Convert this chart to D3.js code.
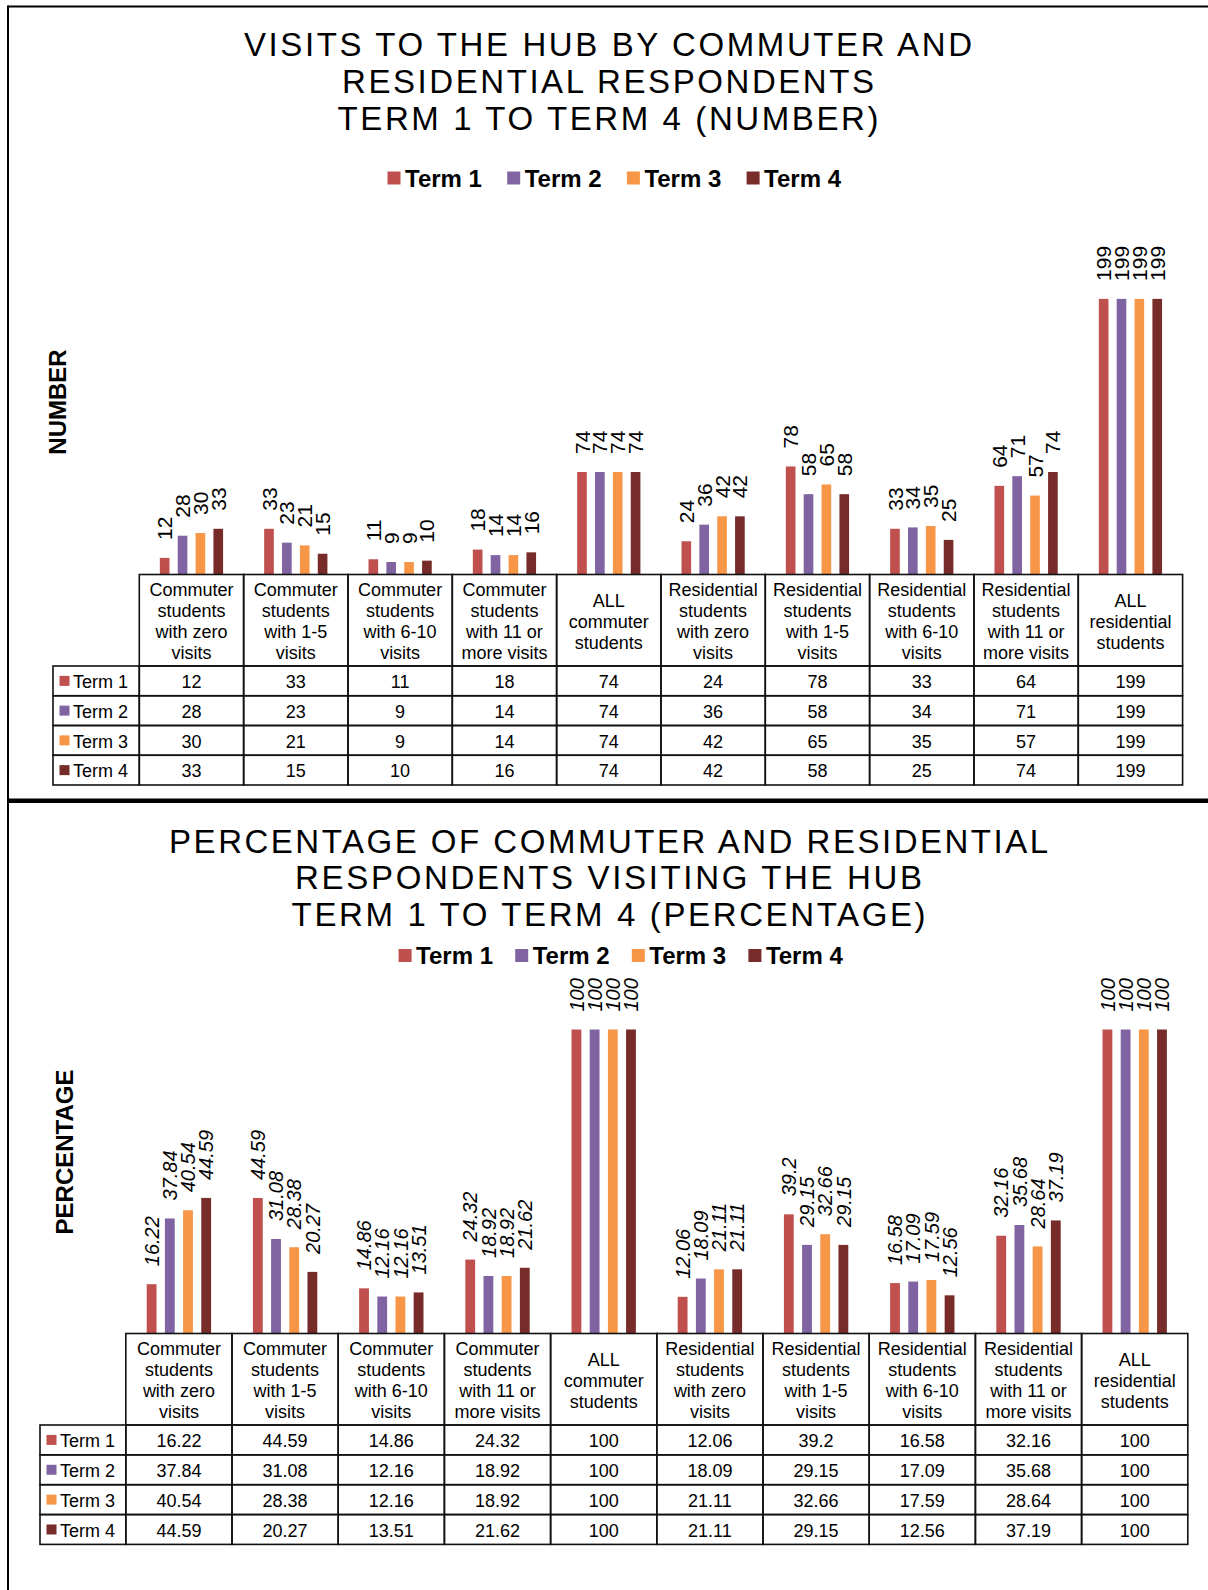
<!DOCTYPE html>
<html>
<head>
<meta charset="utf-8">
<script src="https://cdn.jsdelivr.net/npm/d3@7"></script>
<style>
  html, body { margin: 0; padding: 0; background: #fff; }
  svg { display: block; }
</style>
</head>
<body>
<svg id="chart" width="1208" height="1590"></svg>
<script>
// ---- Data ----
const categories = [
  "Commuter\nstudents\nwith zero\nvisits",
  "Commuter\nstudents\nwith 1-5\nvisits",
  "Commuter\nstudents\nwith 6-10\nvisits",
  "Commuter\nstudents\nwith 11 or\nmore visits",
  "ALL\ncommuter\nstudents",
  "Residential\nstudents\nwith zero\nvisits",
  "Residential\nstudents\nwith 1-5\nvisits",
  "Residential\nstudents\nwith 6-10\nvisits",
  "Residential\nstudents\nwith 11 or\nmore visits",
  "ALL\nresidential\nstudents"
];
const seriesNames = ["Term 1", "Term 2", "Term 3", "Term 4"];

const numberTerm1 = [12, 33, 11, 18, 74, 24, 78, 33, 64, 199];
const numberTerm2 = [28, 23, 9, 14, 74, 36, 58, 34, 71, 199];
const numberTerm3 = [30, 21, 9, 14, 74, 42, 65, 35, 57, 199];
const numberTerm4 = [33, 15, 10, 16, 74, 42, 58, 25, 74, 199];

const percentTerm1 = [16.22, 44.59, 14.86, 24.32, 100, 12.06, 39.2, 16.58, 32.16, 100];
const percentTerm2 = [37.84, 31.08, 12.16, 18.92, 100, 18.09, 29.15, 17.09, 35.68, 100];
const percentTerm3 = [40.54, 28.38, 12.16, 18.92, 100, 21.11, 32.66, 17.59, 28.64, 100];
const percentTerm4 = [44.59, 20.27, 13.51, 21.62, 100, 21.11, 29.15, 12.56, 37.19, 100];

const numberTitle = ["VISITS TO THE HUB BY COMMUTER AND", "RESIDENTIAL RESPONDENTS", "TERM 1 TO TERM 4 (NUMBER)"];
const percentTitle = ["PERCENTAGE OF COMMUTER AND RESIDENTIAL", "RESPONDENTS VISITING THE HUB", "TERM 1 TO TERM 4 (PERCENTAGE)"];

// ---- Styles ----
const FONT = "'Liberation Sans', Arial, Helvetica, sans-serif";
const termColors = ["#C0504D", "#8064A2", "#F79646", "#772C2A"];
const color = d3.scaleOrdinal().domain(seriesNames).range(termColors);

const svg = d3.select("#chart");

// outer frame and divider
const frame = svg.append("g").attr("stroke", "#000").attr("fill", "none");
frame.append("line").attr("x1", 8).attr("x2", 1208).attr("y1", 6.5).attr("y2", 6.5).attr("stroke-width", 2);
frame.append("line").attr("x1", 8).attr("x2", 8).attr("y1", 5.5).attr("y2", 1590).attr("stroke-width", 2);
frame.append("line").attr("x1", 8).attr("x2", 1208).attr("y1", 800.8).attr("y2", 800.8).attr("stroke-width", 4.5);

function drawPanel(cfg) {
  const g = svg.append("g").attr("font-family", FONT);
  const series = seriesNames.map((name, i) => ({ name, values: cfg.values[i] }));

  // title
  const title = g.append("g").attr("text-anchor", "middle").attr("fill", "#000")
    .style("font-size", "33px");
  cfg.title.forEach((line, i) => {
    title.append("text")
      .attr("x", cfg.titleX).attr("y", cfg.titleBaselines[i])
      .attr("textLength", cfg.titleWidths[i]).attr("lengthAdjust", "spacing")
      .text(line);
  });

  // legend
  const legend = g.append("g").style("font-size", "24px").style("font-weight", "bold");
  series.forEach((s, i) => {
    const lx = cfg.legendX + i * cfg.legendStep;
    legend.append("rect").attr("x", lx).attr("y", cfg.legendY - 6.5)
      .attr("width", 13).attr("height", 13).attr("fill", color(s.name));
    legend.append("text").attr("x", lx + 17.5).attr("y", cfg.legendY + 8.5)
      .attr("fill", "#000").text(s.name);
  });

  // axis title
  g.append("text")
    .attr("transform", `translate(${cfg.axisTitleX},${cfg.axisTitleY}) rotate(-90)`)
    .attr("text-anchor", "middle").style("font-size", "24px").style("font-weight", "bold")
    .text(cfg.axisTitle);

  // scales
  const x = d3.scaleBand().domain(d3.range(categories.length))
    .range([cfg.catLeft, cfg.catRight]);
  const xInner = d3.scaleBand().domain(seriesNames)
    .range([0, x.bandwidth()]).paddingInner(0.46).paddingOuter(1.15);
  const y = d3.scaleLinear().domain(cfg.yDomain).range([cfg.baseline, cfg.yTop]);

  // bars
  const groups = g.append("g").selectAll("g").data(series).join("g")
    .attr("fill", d => color(d.name));
  groups.selectAll("rect").data(d => d.values.map((v, i) => ({ v, i, name: d.name })))
    .join("rect")
    .attr("x", d => x(d.i) + xInner(d.name))
    .attr("width", xInner.bandwidth())
    .attr("y", d => y(d.v))
    .attr("height", d => cfg.baseline - y(d.v));

  // value labels, rotated
  groups.selectAll("text").data(d => d.values.map((v, i) => ({ v, i, name: d.name })))
    .join("text")
    .attr("transform", d => `translate(${x(d.i) + xInner(d.name) + xInner.bandwidth() / 2},${y(d.v) - 18}) rotate(-90)`)
    .attr("dy", "0.36em")
    .attr("fill", "#000")
    .style("font-size", cfg.labelSize + "px")
    .style("font-style", cfg.labelItalic ? "italic" : "normal")
    .text(d => String(d.v));

  // data table
  const table = g.append("g");
  const rowTop = r => cfg.headerBottom + r * cfg.rowH;
  const cellStroke = "#111";

  // header cells
  categories.forEach((c, i) => {
    table.append("rect").attr("x", x(i)).attr("y", cfg.baseline)
      .attr("width", x.bandwidth()).attr("height", cfg.headerBottom - cfg.baseline)
      .attr("fill", "none").attr("stroke", cellStroke).attr("stroke-width", 1.6);
    const lines = c.split("\n");
    const mid = (cfg.baseline + cfg.headerBottom) / 2 + 1;
    const t = table.append("text").attr("text-anchor", "middle").style("font-size", "18px");
    lines.forEach((ln, k) => {
      t.append("tspan").attr("x", x(i) + x.bandwidth() / 2)
        .attr("y", mid + (k - (lines.length - 1) / 2) * 21)
        .attr("dy", "0.35em").text(ln);
    });
  });

  // body rows
  series.forEach((s, r) => {
    const top = rowTop(r);
    const cy = top + cfg.rowH / 2 + 1;
    table.append("rect").attr("x", cfg.labelLeft).attr("y", top)
      .attr("width", cfg.catLeft - cfg.labelLeft).attr("height", cfg.rowH)
      .attr("fill", "none").attr("stroke", cellStroke).attr("stroke-width", 1.6);
    table.append("rect").attr("x", cfg.labelLeft + 6.5).attr("y", top + cfg.rowH / 2 - 5)
      .attr("width", 10).attr("height", 10).attr("fill", color(s.name));
    table.append("text").attr("x", cfg.labelLeft + 20).attr("y", cy)
      .attr("dy", "0.35em").style("font-size", "18px").text(s.name);
    s.values.forEach((v, i) => {
      table.append("rect").attr("x", x(i)).attr("y", top)
        .attr("width", x.bandwidth()).attr("height", cfg.rowH)
        .attr("fill", "none").attr("stroke", cellStroke).attr("stroke-width", 1.6);
      table.append("text").attr("x", x(i) + x.bandwidth() / 2).attr("y", cy)
        .attr("dy", "0.35em").attr("text-anchor", "middle").style("font-size", "18px")
        .text(String(v));
    });
  });
}

drawPanel({
  title: numberTitle,
  titleX: 608,
  titleBaselines: [56, 93, 129.5],
  titleWidths: [728, 532, 541],
  legendX: 387.5, legendStep: 119.7, legendY: 178,
  axisTitle: "NUMBER", axisTitleX: 66, axisTitleY: 402,
  values: [numberTerm1, numberTerm2, numberTerm3, numberTerm4],
  yDomain: [0, 200], baseline: 574.5, yTop: 297.5,
  labelSize: 21, labelItalic: false,
  labelLeft: 53, catLeft: 139.3, catRight: 1182.6,
  headerBottom: 666, rowH: 29.75
});

drawPanel({
  title: percentTitle,
  titleX: 608.6,
  titleBaselines: [852.5, 889, 926],
  titleWidths: [879, 627, 634],
  legendX: 398.6, legendStep: 116.6, legendY: 955.5,
  axisTitle: "PERCENTAGE", axisTitleX: 73, axisTitleY: 1152,
  values: [percentTerm1, percentTerm2, percentTerm3, percentTerm4],
  yDomain: [0, 100], baseline: 1333.5, yTop: 1029.5,
  labelSize: 20, labelItalic: true,
  labelLeft: 40, catLeft: 125.8, catRight: 1187.8,
  headerBottom: 1425, rowH: 29.85
});
</script>
</body>
</html>
